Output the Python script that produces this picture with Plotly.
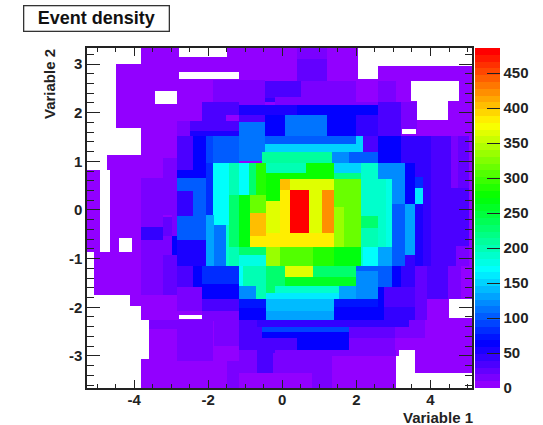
import colorsys
import numpy as np
import plotly.graph_objects as go

# Foam cells: (x0, x1, y0, y1, event density).
outline_cells = [
    (-3.81, 2.05, 3.00, 3.33, 5), (-4.50, 2.05, 1.68, 3.00, 5),
    (2.05, 2.59, 1.68, 2.69, 5), (2.59, 5.12, 1.68, 2.96, 5),
    (-3.81, 5.12, 1.14, 1.68, 5), (-4.73, 5.12, 0.83, 1.14, 5),
    (-5.27, 5.12, -0.87, 0.83, 5), (-5.07, 5.12, -1.74, -0.87, 5),
    (-4.12, 5.12, -1.98, -1.74, 5), (-3.81, 5.12, -2.27, -1.98, 5),
    (-3.61, 5.12, -3.07, -2.27, 5), (-3.81, 3.08, -3.66, -3.07, 5),
    (3.59, 5.12, -3.35, -3.07, 5),
]
upper_left_cells = [
    (-1.86, -0.47, 2.16, 2.68, 15), (-0.47, -0.06, 2.30, 2.66, 33),
    (-0.47, -0.06, 2.23, 2.30, 45), (-2.17, -1.53, 1.82, 2.23, 30),
    (-1.53, -1.18, 1.96, 2.23, 38), (-1.18, -0.06, 1.96, 2.15, 55),
    (-1.18, -0.47, 1.80, 1.96, 38), (-0.47, -0.06, 1.53, 1.96, 62),
    (-2.83, -2.49, 1.53, 1.82, 15), (-2.49, -1.18, 1.63, 1.82, 33),
    (-2.49, -1.18, 1.53, 1.63, 52), (-1.18, -0.47, 1.00, 1.80, 115),
    (-2.83, -2.40, 0.83, 1.53, 30), (-2.40, -2.05, 0.66, 1.53, 65),
    (-2.05, -1.86, 0.96, 1.53, 90), (-1.86, -1.18, 0.96, 1.53, 105),
    (-0.47, -0.06, 1.36, 1.53, 105), (-0.47, -0.06, 1.20, 1.36, 150),
    (-0.56, -0.06, 0.96, 1.20, 205), (-3.22, -2.83, 0.66, 1.07, 15),
    (-2.83, -2.40, 0.66, 0.83, 60), (-2.05, -1.86, -0.10, 0.96, 85),
    (-3.80, -2.83, -0.10, 0.66, 15), (-2.83, -2.05, 0.38, 0.66, 100),
    (-2.83, -2.40, -0.13, 0.38, 45), (-2.40, -2.05, -0.10, 0.38, 100),
    (-1.86, -1.44, -0.30, 0.96, 172), (-1.44, -1.18, 0.31, 0.96, 195),
    (-1.18, -0.89, 0.31, 0.96, 170), (-0.89, -0.72, 0.31, 0.96, 225),
    (-0.72, -0.45, 0.31, 0.96, 285), (-0.45, -0.06, 0.76, 0.96, 200),
    (-0.45, -0.06, 0.18, 0.76, 280), (-1.44, -1.18, -0.77, 0.31, 225),
    (-1.18, -0.87, -0.77, 0.31, 270), (-0.87, -0.45, -0.06, 0.31, 320),
    (-0.87, -0.45, -0.54, -0.06, 405), (-0.45, -0.06, -0.47, 0.18, 365),
]
lower_left_cells = [
    (-2.83, -2.41, -0.61, -0.13, 100), (-2.41, -2.05, -0.61, -0.10, 105),
    (-2.05, -1.84, -1.16, -0.10, 135), (-1.84, -1.53, -1.16, -0.30, 115),
    (-1.53, -1.44, -1.16, -0.30, 190), (-1.44, -1.18, -1.16, -0.77, 195),
    (-0.87, -0.45, -0.77, -0.54, 382), (-0.45, -0.06, -0.77, -0.47, 382),
    (-1.18, -0.45, -0.92, -0.77, 230), (-0.45, -0.06, -1.16, -0.77, 335),
    (-1.18, -0.45, -1.16, -0.92, 180), (-1.18, -1.05, -1.57, -1.16, 172),
    (-1.05, -0.45, -1.57, -1.16, 195), (-0.45, -0.06, -1.57, -1.16, 225),
    (-1.18, -0.72, -1.84, -1.57, 125), (-0.72, -0.45, -1.84, -1.57, 200),
    (-0.45, -0.06, -1.70, -1.57, 225), (-0.45, -0.06, -1.84, -1.70, 165),
    (-0.45, -0.06, -2.08, -1.84, 145), (-0.45, -0.06, -2.27, -2.08, 130),
    (-1.18, -0.45, -2.01, -1.84, 75), (-1.18, -0.45, -2.27, -2.01, 62),
    (-2.17, -1.18, -1.52, -1.16, 85), (-2.17, -1.18, -1.84, -1.52, 62),
    (-2.40, -2.17, -1.59, -1.16, 62), (-2.83, -2.40, -1.59, -1.16, 35),
    (-3.22, -2.83, -1.74, -0.92, 25), (-2.83, -2.17, -2.08, -1.59, 15),
    (-2.17, -1.18, -2.08, -1.84, 38), (-2.17, -1.18, -2.29, -2.08, 15),
    (-2.83, -2.40, -1.16, -0.61, 50), (-2.40, -2.05, -1.16, -0.61, 58),
    (-2.98, -2.83, -0.92, -0.54, 65), (-3.22, -2.98, -0.92, -0.54, 15),
    (-3.22, -2.98, -0.54, -0.15, 25), (-2.98, -2.83, -0.54, -0.10, 15),
    (-3.80, -3.22, -0.61, -0.36, 45), (-3.80, -3.22, -1.74, -0.61, 15),
    (-3.80, -3.22, -0.36, -0.10, 15), (-2.83, -2.17, -2.27, -2.08, 5),
    (-3.61, -2.84, -2.44, -2.27, 12), (-2.84, -1.86, -3.11, -2.27, 15),
    (-1.84, -1.18, -2.80, -2.29, 15), (-1.84, -1.18, -3.11, -2.80, 5),
    (-1.18, -0.69, -2.87, -2.27, 38), (-0.69, -0.06, -2.41, -2.27, 48),
    (-0.56, -0.06, -2.51, -2.41, 90), (-0.56, -0.06, -2.64, -2.51, 65),
    (-0.69, -0.56, -2.64, -2.41, 38), (-0.69, -0.06, -2.94, -2.64, 30),
    (-1.18, -0.69, -3.35, -2.87, 12), (-0.69, -0.26, -3.35, -2.94, 38),
    (-0.26, -0.06, -3.35, -2.94, 12), (-1.50, -1.18, -3.66, -3.11, 15),
    (-1.18, -0.06, -3.66, -3.35, 5),
]
upper_right_cells = [
    (0.39, 1.20, 3.10, 3.33, 15), (0.39, 1.20, 2.66, 3.10, 28),
    (-0.20, 0.50, 2.30, 2.66, 33), (0.50, 1.98, 2.32, 2.66, 15),
    (-0.20, 1.98, 2.23, 2.32, 15), (1.98, 2.59, 2.23, 2.69, 5),
    (2.59, 3.08, 2.23, 2.66, 15), (3.08, 3.48, 2.23, 2.66, 5),
    (-0.20, 2.59, 2.15, 2.23, 15), (-0.20, 0.39, 1.96, 2.15, 50),
    (0.39, 2.59, 1.96, 2.15, 62), (2.59, 3.20, 1.53, 2.23, 38),
    (3.20, 3.64, 1.66, 2.23, 15), (1.98, 2.59, 1.53, 1.96, 42),
    (1.20, 1.98, 1.53, 1.96, 68), (0.06, 1.20, 1.53, 1.96, 115),
    (-0.20, 0.06, 1.53, 1.96, 62), (-0.20, 1.98, 1.36, 1.53, 100),
    (-0.20, 1.98, 1.20, 1.36, 150), (1.98, 2.18, 1.20, 1.53, 150),
    (2.18, 2.59, 1.20, 1.53, 38), (2.59, 3.21, 1.20, 1.53, 62),
    (3.21, 4.02, 0.96, 1.53, 48), (4.02, 4.56, 0.45, 1.53, 30),
    (4.56, 4.74, 0.45, 1.53, 15), (4.74, 5.05, 0.45, 1.53, 28),
    (2.59, 3.21, 0.96, 1.20, 68), (-0.20, 1.35, 0.96, 1.20, 205),
    (1.35, 1.80, 0.96, 1.20, 125), (1.80, 2.59, 0.96, 1.20, 100),
    (-0.20, 0.64, 0.76, 0.96, 200), (0.64, 1.39, 0.64, 0.96, 275),
    (-0.20, 0.64, 0.64, 0.76, 280), (1.39, 2.12, 0.76, 0.96, 150),
    (2.12, 2.59, -0.13, 0.96, 190), (2.59, 3.30, 0.64, 0.96, 120),
    (1.39, 2.12, 0.64, 0.76, 215), (2.59, 2.79, -0.13, 0.64, 190),
    (2.79, 2.96, -0.10, 0.64, 175), (2.96, 3.30, 0.13, 0.64, 125),
    (3.30, 3.59, 0.13, 0.96, 65), (3.59, 3.80, 0.68, 0.96, 45),
    (3.59, 3.80, 0.45, 0.68, 80), (3.59, 3.80, 0.13, 0.45, 160),
    (3.80, 4.02, -0.20, 0.96, 42), (4.02, 5.05, -0.20, 0.45, 35),
    (-0.06, 0.21, 0.42, 0.64, 405), (0.21, 1.39, 0.42, 0.64, 365),
    (-0.06, 0.21, -0.47, 0.42, 382), (0.21, 0.72, -0.47, 0.42, 486),
    (0.72, 1.07, -0.47, 0.42, 365), (1.07, 1.39, -0.47, 0.42, 420),
    (-0.20, -0.06, 0.18, 0.64, 280), (-0.20, -0.06, -0.47, 0.18, 365),
    (1.39, 2.12, 0.07, 0.64, 320), (1.39, 1.66, -0.77, 0.07, 335),
    (1.66, 2.12, -0.77, 0.07, 315),
]
lower_right_cells = [
    (2.12, 2.59, -0.38, -0.13, 230), (2.12, 2.59, -0.77, -0.38, 195),
    (2.59, 2.79, -0.77, -0.13, 190), (2.79, 2.96, -0.77, -0.10, 175),
    (2.96, 3.30, -1.16, 0.13, 105), (3.30, 3.59, -0.92, 0.13, 130),
    (3.30, 3.59, -1.16, -0.92, 45), (3.59, 3.80, -1.16, 0.13, 58),
    (3.80, 4.02, -1.16, -0.20, 45), (4.02, 4.69, -1.16, -0.20, 35),
    (4.69, 5.05, -0.75, -0.20, 35), (4.69, 5.05, -1.16, -0.75, 15),
    (-0.20, 1.39, -0.77, -0.47, 382), (-0.20, -0.06, -1.16, -0.77, 335),
    (-0.06, 0.82, -1.16, -0.77, 310), (0.82, 1.39, -1.16, -0.77, 285),
    (1.39, 2.12, -1.16, -0.77, 270), (2.12, 2.18, -1.16, -0.77, 190),
    (2.18, 2.59, -1.16, -0.77, 172), (2.59, 2.96, -1.16, -0.77, 130),
    (-0.20, 0.06, -1.57, -1.16, 225), (0.06, 0.82, -1.38, -1.16, 365),
    (0.06, 1.98, -1.57, -1.38, 255), (0.82, 1.98, -1.38, -1.16, 225),
    (1.98, 2.59, -1.26, -1.16, 105), (1.98, 2.59, -1.84, -1.26, 125),
    (2.59, 2.96, -1.59, -1.16, 100), (2.96, 3.21, -1.59, -1.16, 62),
    (3.21, 3.59, -1.59, -1.16, 45), (3.59, 3.91, -1.84, -1.16, 28),
    (3.91, 4.47, -1.84, -1.16, 35), (4.47, 4.83, -1.84, -1.16, 15),
    (-0.20, 1.53, -1.70, -1.57, 190), (-0.20, 1.53, -1.84, -1.70, 165),
    (1.53, 1.98, -1.84, -1.57, 135), (2.59, 2.75, -1.99, -1.59, 62),
    (2.75, 3.59, -1.99, -1.59, 38), (-0.20, 1.39, -2.08, -1.84, 145),
    (-0.20, 1.39, -2.27, -2.08, 135), (1.39, 2.59, -1.99, -1.84, 75),
    (1.39, 2.75, -2.27, -1.99, 62), (2.75, 3.59, -2.27, -1.99, 45),
    (3.59, 3.91, -2.27, -1.84, 25), (-0.20, 3.41, -2.41, -2.27, 48),
    (-0.20, 1.80, -2.51, -2.41, 90), (-0.20, 1.80, -2.64, -2.51, 65),
    (-0.20, 0.39, -2.87, -2.64, 30), (0.39, 1.80, -2.87, -2.64, 62),
    (1.80, 3.03, -2.64, -2.41, 28), (3.03, 3.41, -2.64, -2.41, 15),
    (3.41, 3.84, -2.64, -2.27, 12), (1.80, 3.03, -2.87, -2.64, 15),
    (-0.20, 1.33, -2.96, -2.87, 15), (1.33, 3.08, -3.01, -2.87, 15),
    (-0.20, 1.35, -3.35, -2.96, 15), (-0.20, 0.81, -3.66, -3.35, 5),
    (0.81, 1.35, -3.66, -3.35, 12),
]
# Empty cells: (x0, x1, y0, y1)
empty_cells = [
    (-4.91, -4.66, -0.87, 0.83), (-4.41, -4.05, -0.86, -0.58),
    (-2.80, -1.50, 3.14, 3.33), (-2.80, -1.18, 2.69, 2.83),
    (-3.43, -2.83, 2.18, 2.45), (-2.80, -2.17, -2.25, -2.16),
    (3.48, 4.76, 2.25, 2.66), (3.64, 4.47, 1.85, 2.25),
    (3.24, 3.60, 1.56, 1.67), (4.51, 5.12, -2.23, -1.84),
    (3.08, 5.12, -3.66, -3.35), (3.08, 3.59, -3.35, -3.01),
    (3.14, 3.59, -3.01, -2.87),
]
density_ticks = [0, 50, 100, 150, 200, 250, 300, 350, 400, 450]
x_ticks = [-4, -2, 0, 2, 4]
x_tick_labels = ["-4", "-2", "0", "2", "4"]
y_ticks = [-3, -2, -1, 0, 1, 2, 3]
y_tick_labels = ["-3", "-2", "-1", "0", "1", "2", "3"]
x_range = [-5.27, 5.12]
y_range = [-3.66, 3.33]
z_max = 486

all_cells = (outline_cells + upper_left_cells + lower_left_cells
             + upper_right_cells + lower_right_cells)
painted = all_cells + [(*c, None) for c in empty_cells]
x_edges = sorted({x_range[0], x_range[1]} | {c[0] for c in painted} | {c[1] for c in painted})
y_edges = sorted({y_range[0], y_range[1]} | {c[2] for c in painted} | {c[3] for c in painted})
x_edges = np.array(x_edges)
y_edges = np.array(y_edges)
z = np.full((len(y_edges) - 1, len(x_edges) - 1), np.nan)
for x0, x1, y0, y1, v in painted:
    i0, i1 = np.searchsorted(x_edges, [x0, x1])
    j0, j1 = np.searchsorted(y_edges, [y0, y1])
    z[j0:j1, i0:i1] = np.nan if v is None else v

# ROOT rainbow palette, 50 flat levels
n_levels = 50
colorscale = []
for i in range(n_levels):
    hue = (280 - (i + 1) * 280 / n_levels) / 360
    r, g, b = colorsys.hsv_to_rgb(hue, 1, 1)
    col = f"rgb({round(r*255)},{round(g*255)},{round(b*255)})"
    colorscale += [[i / n_levels, col], [(i + 1) / n_levels, col]]

FONT = "Liberation Sans, Arial, sans-serif"
TXT = "#222222"
fig = go.Figure(go.Heatmap(
    x=x_edges, y=y_edges, z=z, zmin=0, zmax=z_max,
    colorscale=colorscale, hoverongaps=False,
    colorbar=dict(
        x=(475 - 87) / 385, xanchor="left", xref="paper", xpad=0, ypad=0,
        thickness=25, thicknessmode="pixels", len=1, lenmode="fraction",
        y=0, yanchor="bottom", outlinewidth=0, borderwidth=0,
        tickmode="array", tickvals=density_ticks, ticks="inside",
        ticklen=13, tickwidth=1.2, tickcolor="#222222",
        tickfont=dict(family=FONT, size=15, color=TXT, weight=600),
    ),
))
axis_common = dict(
    showgrid=False, zeroline=False, showline=True, linecolor="#222222",
    linewidth=1.5, mirror="allticks", ticks="inside", tickcolor="#222222",
    tickwidth=1.2, tickfont=dict(family=FONT, size=15, color=TXT, weight=600),
    tickmode="array",
)
fig.update_xaxes(range=x_range, tickvals=x_ticks, ticktext=x_tick_labels, ticklen=8,
                 ticklabelstandoff=-3, **axis_common,
                 minor=dict(dtick=0.5, ticks="inside", ticklen=4,
                            tickcolor="#222222", tickwidth=1, showgrid=False))
fig.update_yaxes(range=y_range, tickvals=y_ticks, ticktext=y_tick_labels, ticklen=13, **axis_common,
                 minor=dict(dtick=0.2, ticks="inside", ticklen=7,
                            tickcolor="#222222", tickwidth=1, showgrid=False))
fig.update_layout(
    width=543, height=425, margin=dict(l=87, r=71, t=48, b=37, pad=0, autoexpand=False),
    paper_bgcolor="white", plot_bgcolor="white", showlegend=False,
    annotations=[
        dict(text="<b>Event density</b>", xref="paper", yref="paper",
             x=(96 - 87) / 385, y=1 + (48 - 18) / 340, xanchor="center", yanchor="middle",
             showarrow=False, font=dict(family=FONT, size=18, color="#111111"),
             bordercolor="#333333", borderwidth=1.3, bgcolor="white",
             width=142, height=22),
        dict(text="<b>Variable 1</b>", xref="paper", yref="paper",
             x=1 + 3 / 385, y=-(418 - 388) / 340, xanchor="right", yanchor="middle",
             showarrow=False, font=dict(family=FONT, size=15, color=TXT)),
        dict(text="<b>Variable 2</b>", xref="paper", yref="paper",
             x=-(87 - 50) / 385, y=1 - (84 - 48) / 340, xanchor="center", yanchor="middle",
             textangle=-90, showarrow=False, font=dict(family=FONT, size=15, color=TXT)),
    ],
)
fig.write_html("out.html", post_script="document.body.style.margin='0';",
               config=dict(displayModeBar=False))
